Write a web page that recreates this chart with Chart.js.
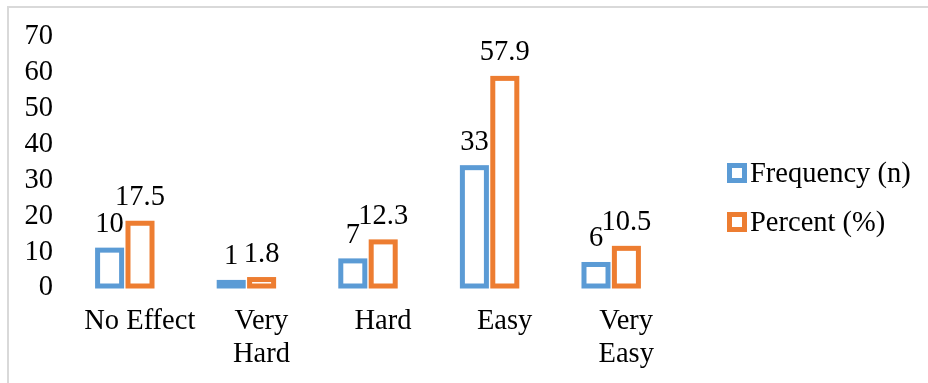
<!DOCTYPE html>
<html>
<head>
<meta charset="utf-8">
<script src="https://cdn.jsdelivr.net/npm/chart.js@4/dist/chart.umd.min.js"></script>
<style>
  html, body { margin: 0; padding: 0; background: #fff; }
  #wrap { position: relative; width: 928px; height: 383px; overflow: hidden; }
  #frame { position: absolute; left: 7px; top: 6px; width: 940px; height: 400px;
           border-top: 2px solid #d9d9d9; border-left: 2px solid #d9d9d9; box-sizing: border-box; }
  canvas { position: absolute; left: 0; top: 0; }
</style>
</head>
<body>
<div id="wrap">
  <div id="frame"></div>
  <canvas id="c" width="928" height="383"></canvas>
</div>
<script>
const categories = ['No Effect', ['Very', 'Hard'], 'Hard', 'Easy', ['Very', 'Easy']];
const frequency = [10, 1, 7, 33, 6];
const percent = [17.5, 1.8, 12.3, 57.9, 10.5];
const yTicks = [0, 10, 20, 30, 40, 50, 60, 70];
const seriesNames = ['Frequency (n)', 'Percent (%)'];

const BLUE = '#5B9BD5';
const ORANGE = '#ED7D31';
const FONT = '"Liberation Serif", "Times New Roman", serif';
const FONT_SIZE = 28.5;
const OUTLINE = 5;

// hollow bars: the outline is stroked centred on each bar's edge
const barOutlines = {
  id: 'barOutlines',
  afterDatasetsDraw(chart) {
    const ctx = chart.ctx;
    ctx.save();
    ctx.lineWidth = OUTLINE;
    ctx.lineJoin = 'miter';
    chart.data.datasets.forEach((ds, i) => {
      ctx.strokeStyle = ds.borderColor;
      chart.getDatasetMeta(i).data.forEach(el => {
        const p = el.getProps(['x', 'y', 'base', 'width'], true);
        ctx.strokeRect(p.x - p.width / 2, p.y, p.width, p.base - p.y);
      });
    });
    ctx.restore();
  }
};

// value labels above each bar
const valueLabels = {
  id: 'valueLabels',
  afterDatasetsDraw(chart) {
    const ctx = chart.ctx;
    ctx.save();
    ctx.fillStyle = '#000';
    ctx.font = FONT_SIZE + 'px ' + FONT;
    ctx.textAlign = 'center';
    ctx.textBaseline = 'alphabetic';
    chart.data.datasets.forEach((ds, i) => {
      chart.getDatasetMeta(i).data.forEach((el, j) => {
        ctx.fillText(String(ds.data[j]), el.x, el.y - 18);
      });
    });
    ctx.restore();
  }
};

// legend with hollow squares on the right
const sideLegend = {
  id: 'sideLegend',
  afterDraw(chart) {
    const ctx = chart.ctx;
    ctx.save();
    ctx.font = FONT_SIZE + 'px ' + FONT;
    ctx.textBaseline = 'alphabetic';
    ctx.textAlign = 'left';
    chart.data.datasets.forEach((ds, i) => {
      const top = 163 + i * 49;
      ctx.fillStyle = ds.borderColor;
      ctx.fillRect(727, top, 20, 20);
      ctx.fillStyle = '#fff';
      ctx.fillRect(732, top + 5, 10, 10);
      ctx.fillStyle = '#000';
      ctx.fillText(ds.label, 750, top + 19);
    });
    ctx.restore();
  }
};

new Chart(document.getElementById('c'), {
  type: 'bar',
  data: {
    labels: categories,
    datasets: [
      { label: seriesNames[0], data: frequency, backgroundColor: '#fff', borderColor: BLUE, borderWidth: 0 },
      { label: seriesNames[1], data: percent, backgroundColor: '#fff', borderColor: ORANGE, borderWidth: 0 }
    ]
  },
  options: {
    responsive: false,
    animation: false,
    devicePixelRatio: 1,
    layout: { padding: { left: 0, right: 256, top: 35, bottom: 0 } },
    datasets: { bar: { categoryPercentage: 0.5, barPercentage: 0.79 } },
    plugins: { legend: { display: false }, tooltip: { enabled: false } },
    scales: {
      x: {
        grid: { display: false, drawTicks: false },
        border: { display: false },
        ticks: {
          color: '#000', font: { family: FONT, size: FONT_SIZE, lineHeight: 1.16 },
          padding: 19, labelOffset: 15, maxRotation: 0, autoSkip: false
        },
        afterFit(scale) { scale.height = 97; }
      },
      y: {
        min: 0, max: 70,
        grid: { display: false, drawTicks: false },
        border: { display: false },
        afterBuildTicks(scale) { scale.ticks = yTicks.map(v => ({ value: v })); },
        ticks: { color: '#000', font: { family: FONT, size: FONT_SIZE }, padding: 11, autoSkip: false, labelOffset: 2 },
        afterFit(scale) { scale.width = 64; }
      }
    }
  },
  plugins: [barOutlines, valueLabels, sideLegend]
});
</script>
</body>
</html>
